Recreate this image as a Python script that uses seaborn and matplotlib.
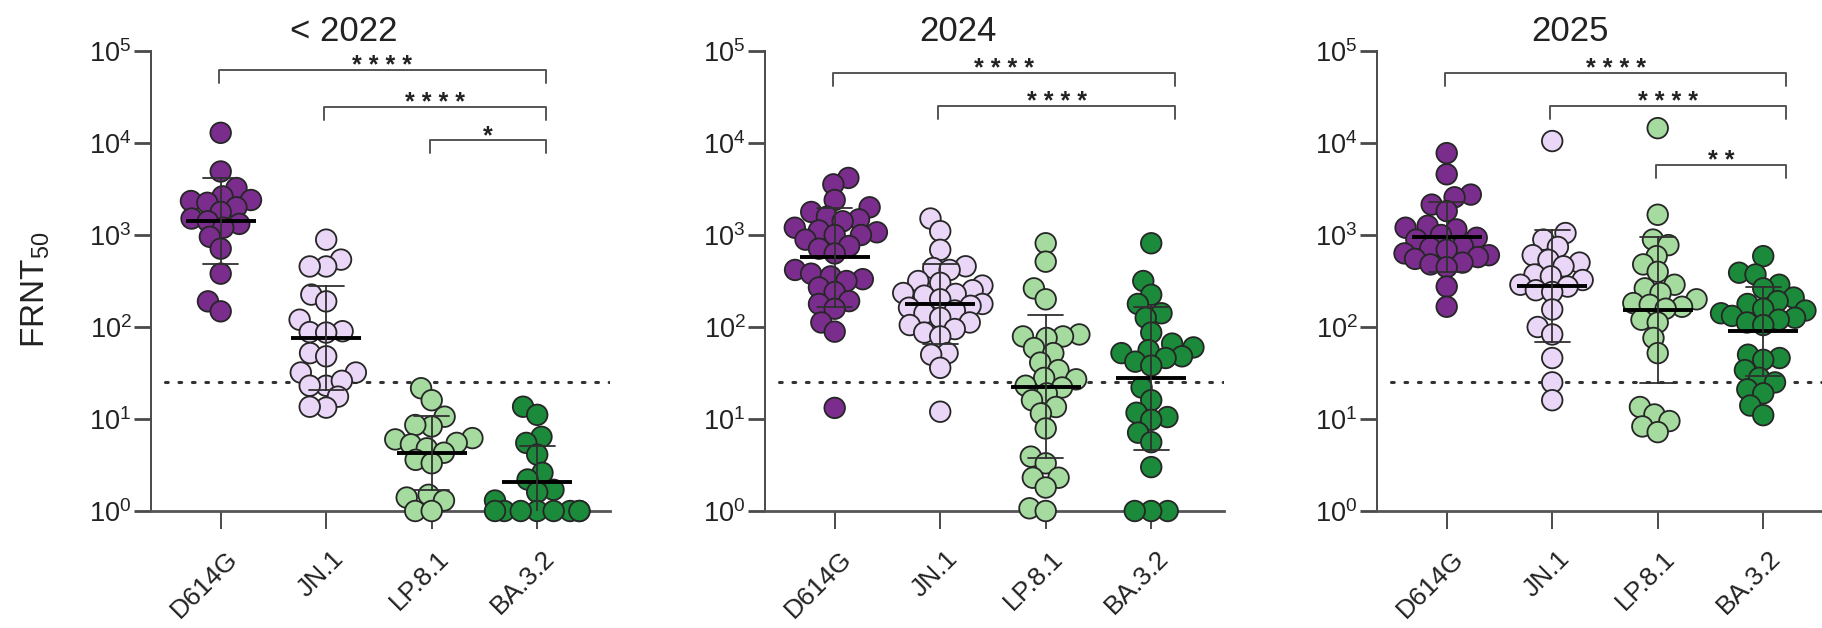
import numpy as np
import pandas as pd
import matplotlib
matplotlib.use("Agg")
import matplotlib.pyplot as plt
from matplotlib.transforms import ScaledTranslation
import seaborn as sns

# ---------------- data ----------------
variants = ["D614G", "JN.1", "LP.8.1", "BA.3.2"]
panels = ["< 2022", "2024", "2025"]
colors = ["#7B2D8E", "#EAD6F6", "#A6DBA0", "#1B8A3A"]
lod = 25

d614g_2022 = [12900, 4900, 3240, 2630, 2400, 2340, 2240, 2000, 1780, 1510, 1410,
              1320, 1200, 955, 710, 380, 190, 148]
jn1_2022 = [890, 540, 455, 455, 225, 190, 120, 90, 88, 87, 52, 48, 32, 32, 23, 26,
            23, 17.5, 13.3, 13.6]
lp81_2022 = [21.6, 16, 10.6, 8.3, 8.6, 6.2, 6.0, 5.5, 5.3, 4.8, 4.3, 3.6, 3.3, 1.5,
             1.4, 1.3, 1.0, 1.0]
ba32_2022 = [13.6, 11.1, 6.4, 5.5, 4.1, 2.6, 2.2, 1.7, 1.6, 1.3, 1, 1, 1, 1, 1, 1, 1, 1]

d614g_2024 = [4170, 3550, 2400, 2000, 1780, 1580, 1480, 1410, 1200, 1120, 1070, 1000,
              1000, 890, 760, 710, 630, 417, 380, 355, 331, 316, 269, 240, 191, 178,
              158, 112, 89, 13.2]
jn1_2024 = [1510, 1100, 690, 457, 437, 417, 316, 302, 282, 251, 234, 229, 219, 200,
            178, 170, 162, 151, 141, 126, 112, 105, 95, 87, 79, 52, 50, 36, 12]
lp81_2024 = [813, 513, 263, 200, 83, 79, 79, 76, 59, 52, 41, 34, 28, 27, 23, 22, 19,
             16, 13.5, 11.5, 7.9, 3.9, 3.3, 2.3, 2.3, 1.8, 1.07, 1]
ba32_2024 = [813, 316, 224, 178, 141, 126, 87, 66, 60, 56, 52, 48, 46, 42, 38, 22, 16,
             11.7, 10.5, 9.8, 7.1, 5.6, 3.0, 1, 1, 1]

d614g_2025 = [7760, 4570, 2750, 2570, 2140, 1820, 1260, 1200, 1150, 1000, 933, 891,
              759, 724, 692, 631, 603, 575, 550, 501, 479, 447, 275, 166]
jn1_2025 = [10500, 1050, 891, 741, 603, 537, 501, 457, 372, 355, 324, 288, 275, 251,
            240, 155, 100, 83, 46, 25, 16]
lp81_2025 = [14500, 1660, 891, 776, 589, 479, 398, 288, 263, 234, 200, 182, 174, 166,
             158, 120, 112, 76, 52, 13.5, 11.2, 9.5, 8.3, 7.2]
ba32_2025 = [589, 389, 372, 288, 263, 209, 191, 178, 158, 151, 141, 132, 126, 120,
             112, 105, 50, 46, 44, 34, 28, 25, 21, 19, 14, 11]

panel_data = {
    "< 2022": [d614g_2022, jn1_2022, lp81_2022, ba32_2022],
    "2024": [d614g_2024, jn1_2024, lp81_2024, ba32_2024],
    "2025": [d614g_2025, jn1_2025, lp81_2025, ba32_2025],
}

# significance brackets: (from index, to index, label, height)
brackets = {
    "< 2022": [(0, 3, "****", 6.2e4), (1, 3, "****", 2.45e4), (2, 3, "*", 1.07e4)],
    "2024": [(0, 3, "****", 5.75e4), (1, 3, "****", 2.5e4)],
    "2025": [(0, 3, "****", 5.75e4), (1, 3, "****", 2.5e4), (2, 3, "**", 5.75e3)],
}

rows = []
for p in panels:
    for v, vals in zip(variants, panel_data[p]):
        for t in vals:
            rows.append({"panel": p, "variant": v, "titer": t})
df = pd.DataFrame(rows)

# ---------------- style ----------------
sns.set_theme(style="ticks")
plt.rcParams["font.family"] = ["Liberation Sans", "DejaVu Sans"]
plt.rcParams["mathtext.fontset"] = "custom"
plt.rcParams["mathtext.rm"] = "Liberation Sans"
plt.rcParams["mathtext.it"] = "Liberation Sans:italic"
plt.rcParams["mathtext.bf"] = "Liberation Sans:bold"

text_col = "#222222"
axis_col = "#4a4a4a"
bracket_right_pad = {"< 2022": 0.08, "2024": 0.23, "2025": 0.22}

fig = plt.figure(figsize=(18.22, 6.28), dpi=100)
lefts = [0.0829, 0.4199, 0.7558]
axes = [fig.add_axes([l, 0.1863, 0.2519, 0.7325]) for l in lefts]

swarm_colls = []
for ax, p in zip(axes, panels):
    sub = df[df["panel"] == p]
    sns.swarmplot(data=sub, x="variant", y="titer", hue="variant", order=variants,
                  hue_order=variants, palette=colors, size=10.0, linewidth=1.3,
                  edgecolor="#262626", log_scale=True, legend=False, ax=ax,
                  warn_thresh=1.0)
    for coll in ax.collections:
        coll.set_clip_on(False)
        coll.set_zorder(3)
        swarm_colls.append(coll)

    sns.pointplot(data=sub, x="variant", y="titer", order=variants,
                  estimator="mean", errorbar="sd", marker="_", markersize=50,
                  markeredgewidth=2.8, linestyle="none", color="black",
                  capsize=0.33, err_kws={"linewidth": 1.3, "color": "#303030"},
                  log_scale=True, ax=ax)
    for ln in ax.lines:
        ln.set_zorder(4)

    ax.set_yscale("log")
    ax.set_ylim(1, 1e5)
    ax.set_xlim(-0.66, 3.69)
    ax.axhline(lod, xmin=0.03, xmax=1.0, color="#333333", lw=2.2,
               ls=(0, (0.9, 3.5)), dash_capstyle="round", zorder=2)

    # brackets
    for i, j, lab, yb in brackets[p]:
        x1, x2 = i - 0.02, j + bracket_right_pad[p]
        ax.plot([x1, x1, x2, x2], [yb / 1.38, yb, yb, yb / 1.38], color="#555555",
                lw=1.4, clip_on=False, zorder=5)
        ax.text((x1 + x2) / 2, yb / 1.07, " ".join(lab), ha="center", va="baseline",
                fontsize=18, fontweight="bold", color=text_col, clip_on=False)

    ax.set_yticks([1, 10, 100, 1e3, 1e4, 1e5])
    ax.set_yticklabels([r"$10^{%d}$" % k for k in range(6)])
    ax.yaxis.set_minor_locator(matplotlib.ticker.NullLocator())
    ax.set_xticks(range(4))
    ax.set_xticklabels(variants, rotation=45, ha="right", rotation_mode="anchor")
    ax.tick_params(axis="y", direction="out", length=12, width=2.0, color=axis_col,
                   labelsize=19.5, labelcolor=text_col, pad=2)
    ax.tick_params(axis="x", direction="out", length=13, width=1.4, color=axis_col,
                   labelsize=19, labelcolor=text_col, pad=8)
    shift = ScaledTranslation(5 / 100, -6 / 100, fig.dpi_scale_trans)
    for lab in ax.get_xticklabels():
        lab.set_transform(lab.get_transform() + shift)
    for s in ["top", "right"]:
        ax.spines[s].set_visible(False)
    ax.spines["left"].set_color(axis_col)
    ax.spines["left"].set_linewidth(1.4)
    ax.spines["bottom"].set_color("#555555")
    ax.spines["bottom"].set_linewidth(2.0)
    ax.set_xlabel("")
    ax.set_ylabel("")
    ax.set_title(p, fontsize=25, color=text_col, pad=7, x=0.42)

axes[0].set_ylabel("FRNT$_{50}$", fontsize=24, color=text_col)
axes[0].yaxis.set_label_coords(-0.215, 0.48)

# lay out the swarms with a compact footprint, then show the markers at full size
fig.canvas.draw()
for coll in swarm_colls:
    coll.__dict__.pop("draw", None)
    coll.set_sizes([14.8 ** 2] * len(coll.get_offsets()))

fig.savefig("out.png", dpi=100)
